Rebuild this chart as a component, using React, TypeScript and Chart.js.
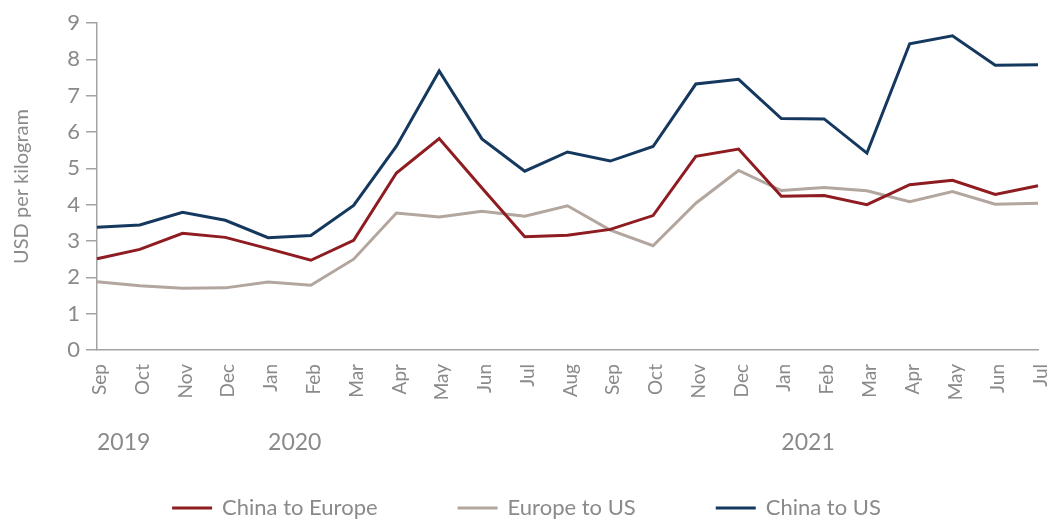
import React, { useEffect, useRef } from 'react';
import { Chart, registerables } from 'chart.js';

Chart.register(...registerables);

const months = ['Sep', 'Oct', 'Nov', 'Dec', 'Jan', 'Feb', 'Mar', 'Apr', 'May', 'Jun', 'Jul', 'Aug', 'Sep', 'Oct', 'Nov', 'Dec', 'Jan', 'Feb', 'Mar', 'Apr', 'May', 'Jun', 'Jul'];
const yearLabels = ['2019', '2020', '2021'];
const yearStartIndex = [0, 4, 16];
const yTicks = [0, 1, 2, 3, 4, 5, 6, 7, 8, 9];

const chinaToEurope = [2.51, 2.77, 3.21, 3.1, 2.79, 2.47, 3.02, 4.87, 5.82, 4.46, 3.12, 3.16, 3.32, 3.7, 5.33, 5.53, 4.23, 4.25, 4.0, 4.55, 4.67, 4.28, 4.52];
const europeToUS = [1.88, 1.77, 1.7, 1.71, 1.87, 1.78, 2.5, 3.77, 3.66, 3.82, 3.68, 3.97, 3.3, 2.87, 4.04, 4.94, 4.39, 4.47, 4.38, 4.08, 4.36, 4.01, 4.04];
const chinaToUS = [3.38, 3.44, 3.79, 3.57, 3.09, 3.15, 3.98, 5.61, 7.68, 5.81, 4.92, 5.45, 5.2, 5.6, 7.32, 7.45, 6.37, 6.36, 5.42, 8.43, 8.65, 7.84, 7.85];

const seriesNames = ['China to Europe', 'Europe to US', 'China to US'];
const seriesColors = ['#8e1c21', '#b2a69e', '#15385f'];

const TEXT = '#8a8a8a';
const AXIS = '#a3a3a3';
const FONT = 'Lato, "Open Sans", sans-serif';

const extrasPlugin = {
  id: 'extras',
  afterDraw(chart: any) {
    const { ctx, chartArea, scales } = chart;
    const x = scales.x;
    ctx.save();
    ctx.fillStyle = TEXT;
    ctx.font = `23px ${FONT}`;
    ctx.textBaseline = 'middle';
    ctx.textAlign = 'left';
    yearLabels.forEach((t, i) => {
      ctx.fillText(t, x.getPixelForValue(yearStartIndex[i]), chartArea.bottom + 93);
    });

    ctx.font = `22px ${FONT}`;
    const boxW = 40;
    const gapText = 10;
    const gapItem = 80;
    const items = chart.data.datasets.map((ds: any) => ({
      text: ds.label,
      color: ds.borderColor,
      w: ctx.measureText(ds.label).width,
    }));
    const total = items.reduce((s: number, it: any) => s + boxW + gapText + it.w, 0) + gapItem * (items.length - 1);
    let cx = (chart.width - total) / 2;
    const cy = chartArea.bottom + 158;
    items.forEach((it: any) => {
      ctx.fillStyle = it.color;
      ctx.fillRect(cx, cy - 1.5, boxW, 3);
      cx += boxW + gapText;
      ctx.fillStyle = TEXT;
      ctx.fillText(it.text, cx, cy);
      cx += it.w + gapItem;
    });
    ctx.restore();
  },
};

export default function App() {
  const ref = useRef<HTMLCanvasElement | null>(null);

  useEffect(() => {
    if (!ref.current) return;
    const values = [chinaToEurope, europeToUS, chinaToUS];
    const chart = new Chart(ref.current, {
      type: 'line',
      data: {
        labels: months,
        datasets: values.map((v, i) => ({
          label: seriesNames[i],
          data: v,
          borderColor: seriesColors[i],
          backgroundColor: seriesColors[i],
          borderWidth: 3,
          pointRadius: 0,
          tension: 0,
          fill: false,
        })),
      },
      options: {
        animation: false,
        responsive: true,
        maintainAspectRatio: false,
        layout: { padding: { left: 10, top: 23, right: 15, bottom: 0 } },
        plugins: {
          legend: { display: false },
          tooltip: { enabled: false },
        },
        scales: {
          x: {
            offset: false,
            grid: { display: false, drawOnChartArea: false, drawTicks: false },
            border: { display: true, color: AXIS, width: 1.5 },
            ticks: {
              color: TEXT,
              font: { family: FONT, size: 19 },
              minRotation: 90,
              maxRotation: 90,
              padding: 14,
              autoSkip: false,
              labelOffset: 3,
            },
            afterFit(scale: any) {
              scale.height = 170;
              scale.paddingLeft = 0;
              scale.paddingRight = 0;
            },
          },
          y: {
            min: 0,
            max: 9,
            afterBuildTicks(scale: any) {
              scale.ticks = yTicks.map((v) => ({ value: v }));
            },
            grid: { drawOnChartArea: false, drawTicks: true, tickLength: 11, color: AXIS, lineWidth: 1.5 },
            border: { display: true, color: AXIS, width: 1.5 },
            ticks: {
              color: TEXT,
              font: { family: FONT, size: 22 },
              padding: 6,
            },
            title: {
              display: true,
              text: 'USD per kilogram',
              color: TEXT,
              font: { family: FONT, size: 20 },
              padding: 0,
            },
            afterFit(scale: any) {
              scale.width = 87;
            },
          },
        },
      },
      plugins: [extrasPlugin],
    });
    return () => chart.destroy();
  }, []);

  return (
    <div style={{ position: 'fixed', left: 0, top: 0, width: '100vw', height: '100vh', background: '#fff' }}>
      <canvas ref={ref} />
    </div>
  );
}
